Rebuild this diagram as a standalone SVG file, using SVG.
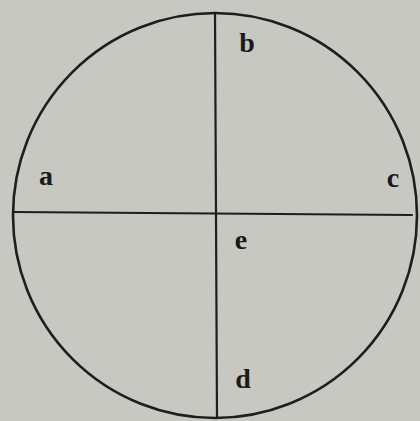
<svg xmlns="http://www.w3.org/2000/svg" width="420" height="421" viewBox="0 0 420 421">
<style>
.ln{stroke:#1e1e1c;fill:none;stroke-linecap:round}
.lb{font-family:"Liberation Serif","DejaVu Serif",serif;font-weight:bold;font-size:28px;fill:#1a1a18;text-anchor:middle}
</style>
<rect width="420" height="421" fill="#c7c8c1"/>
<g id="circle"><ellipse class="ln" cx="215" cy="215.5" rx="202" ry="202.5" stroke-width="2.6"/></g>
<g id="connectors">
<line class="ln" x1="215" y1="13" x2="217" y2="418" stroke-width="2.2"/>
<line class="ln" x1="14" y1="212" x2="412" y2="215" stroke-width="2.2"/>
</g>
<g id="a"><text class="lb" x="46" y="185">a</text></g>
<g id="b"><text class="lb" x="247" y="52">b</text></g>
<g id="c"><text class="lb" x="393" y="187">c</text></g>
<g id="e"><text class="lb" x="241" y="249">e</text></g>
<g id="d"><text class="lb" x="243" y="388">d</text></g>
</svg>
